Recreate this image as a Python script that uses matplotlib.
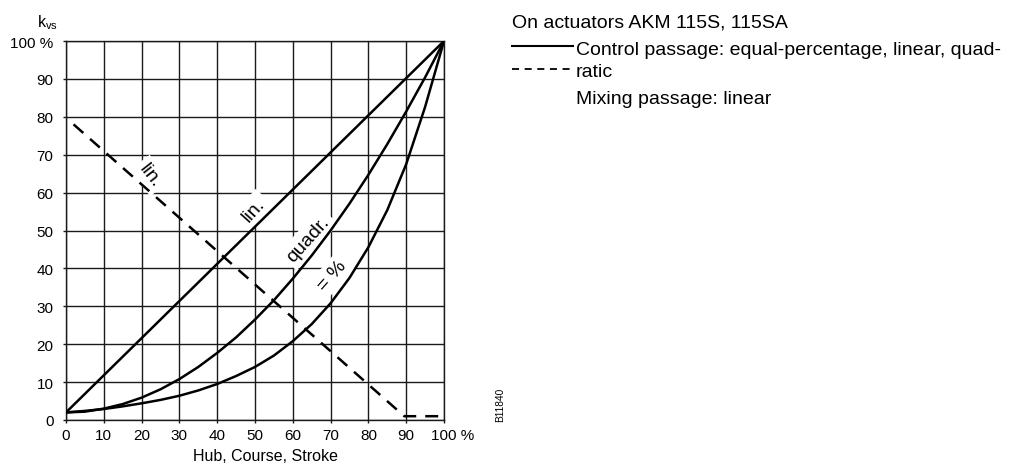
import matplotlib
matplotlib.use("Agg")
import matplotlib.pyplot as plt
from matplotlib.lines import Line2D
from matplotlib.transforms import ScaledTranslation

plt.rcParams['font.family'] = ['Liberation Sans', 'DejaVu Sans']

# stroke in %
stroke = [0, 5, 10, 15, 20, 25, 30, 35, 40, 45, 50, 55, 60, 65, 70, 75, 80, 85, 90, 95, 100]

# control passage, kv/kvs in %
eq_pct = [2.0, 2.4, 2.9, 3.6, 4.4, 5.3, 6.4, 7.8, 9.5, 11.6, 14.0, 17.0, 20.8,
          25.3, 30.8, 37.5, 45.6, 55.4, 67.5, 82.6, 100.0]
quadr = [2.0, 2.2, 3.0, 4.2, 5.9, 8.1, 10.8, 14.0, 17.7, 21.8, 26.5, 31.6, 37.3,
         43.4, 50.0, 57.1, 64.7, 72.8, 81.4, 90.4, 100.0]
lin_x = [0, 100]
lin_y = [2, 100]

# mixing passage
mix_x = [2, 89.5, 100]
mix_y = [78, 1, 1]

ticks = [0, 10, 20, 30, 40, 50, 60, 70, 80, 90, 100]
tick_labels = ['0', '10', '20', '30', '40', '50', '60', '70', '80', '90', '100 %']

W, H = 1012, 464


def fx(px):
    return px / W


def fy(py):
    return 1 - py / H


fig = plt.figure(figsize=(W / 100, H / 100), dpi=100)
ax = fig.add_axes([fx(66), fy(421), fx(444) - fx(66), fy(42) - fy(421)])

lw = 1.8
ax.plot(lin_x, lin_y, color='black', lw=lw, zorder=4, solid_capstyle='butt')
ax.plot(stroke, quadr, color='black', lw=lw, zorder=4)
ax.plot(stroke, eq_pct, color='black', lw=lw, zorder=4)
ax.plot(mix_x, mix_y, color='black', lw=lw, zorder=4,
        linestyle=(0, (5.2, 3.6)), dash_capstyle='butt')

ax.set_xlim(0, 100)
ax.set_ylim(0, 100)
ax.set_xticks(ticks)
ax.set_yticks(ticks)
ax.set_xticklabels(tick_labels)
ax.set_yticklabels(tick_labels)
ax.set_axisbelow(True)
ax.grid(True, color='#1a1a1a', lw=1.0)
for s in ax.spines.values():
    s.set_color('#1a1a1a')
    s.set_linewidth(1.0)
ax.tick_params(axis='both', length=2, width=1.0, color='#1a1a1a', labelsize=11)
ax.tick_params(axis='x', pad=4)
ax.tick_params(axis='y', pad=7)

# keep "100" centred on its tick, the " %" hangs to the right
last = ax.get_xticklabels()[-1]
last.set_transform(last.get_transform() + ScaledTranslation(9 / 100, 0, fig.dpi_scale_trans))

# curve labels
box = dict(facecolor='white', edgecolor='none', pad=3)
ax.text(49.7, 55.5, 'lin.', rotation=48, ha='center', va='center', fontsize=14,
        bbox=box, zorder=3)
ax.text(64.1, 47.8, 'quadr.', rotation=48, ha='center', va='center', fontsize=14,
        bbox=box, zorder=3)
ax.text(70.3, 38.1, '= %', rotation=48, ha='center', va='center', fontsize=14,
        bbox=box, zorder=3)
ax.text(22.2, 64.5, 'lin.', rotation=-52, ha='center', va='center', fontsize=14,
        bbox=box, zorder=3)

# axis texts
fig.text(fx(37), fy(27), r'k$_\mathregular{vs}$', fontsize=11.5, ha='left', va='baseline')
fig.text(fx(266), fy(457), 'Hub, Course, Stroke', fontsize=11.5, ha='center', va='center')
fig.text(fx(500), fy(405), 'B11840', fontsize=7.3, rotation=90, ha='center', va='center')

# legend block on the right
fig.text(fx(512), fy(28), 'On actuators AKM 115S, 115SA', fontsize=14, va='baseline')
fig.text(fx(576), fy(55), 'Control passage: equal-percentage, linear, quad-', fontsize=14,
         va='baseline')
fig.text(fx(576), fy(77), 'ratic', fontsize=14, va='baseline')
fig.text(fx(576), fy(104), 'Mixing passage: linear', fontsize=14, va='baseline')

fig.add_artist(Line2D([fx(512), fx(573)], [fy(47), fy(47)], color='black', lw=1.5))
fig.add_artist(Line2D([fx(512), fx(572)], [fy(70), fy(70)], color='black', lw=1.3,
                      linestyle=(0, (3.9, 3.1)), dash_capstyle='butt'))

plt.savefig('out.png', dpi=100)
